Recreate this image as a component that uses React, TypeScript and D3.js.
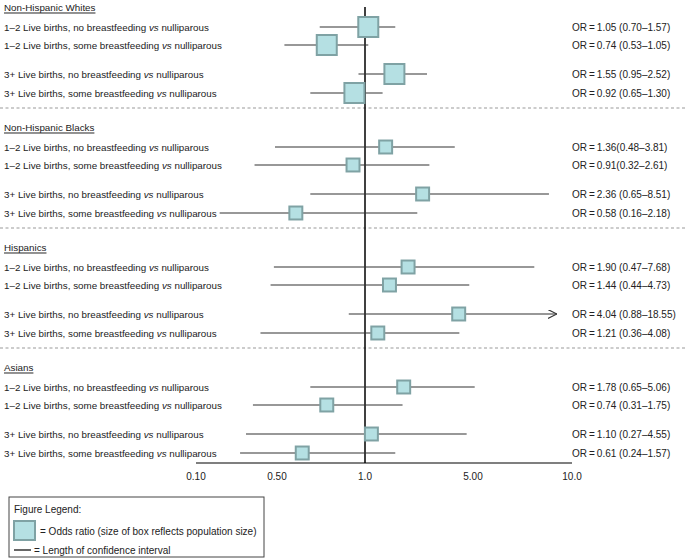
import React from "react";
import * as d3 from "d3";

// ---- Data ----
const groups = ["Non-Hispanic Whites", "Non-Hispanic Blacks", "Hispanics", "Asians"];
const comparisons = [
  "1–2 Live births, no breastfeeding",
  "1–2 Live births, some breastfeeding",
  "3+ Live births, no breastfeeding",
  "3+ Live births, some breastfeeding",
];
const orValues = [1.05, 0.74, 1.55, 0.92, 1.36, 0.91, 2.36, 0.58, 1.9, 1.44, 4.04, 1.21, 1.78, 0.74, 1.1, 0.61];
const ciLow = [0.7, 0.53, 0.95, 0.65, 0.48, 0.32, 0.65, 0.16, 0.47, 0.44, 0.88, 0.36, 0.65, 0.31, 0.27, 0.24];
const ciHigh = [1.57, 1.05, 2.52, 1.3, 3.81, 2.61, 8.51, 2.18, 7.68, 4.73, 18.55, 4.08, 5.06, 1.75, 4.55, 1.57];
const orLabels = [
  "OR\u2009=\u20091.05 (0.70–1.57)",
  "OR\u2009=\u20090.74 (0.53–1.05)",
  "OR\u2009=\u20091.55 (0.95–2.52)",
  "OR\u2009=\u20090.92 (0.65–1.30)",
  "OR\u2009=\u20091.36(0.48–3.81)",
  "OR\u2009=\u20090.91(0.32–2.61)",
  "OR\u2009=\u20092.36 (0.65–8.51)",
  "OR\u2009=\u20090.58 (0.16–2.18)",
  "OR\u2009=\u20091.90 (0.47–7.68)",
  "OR\u2009=\u20091.44 (0.44–4.73)",
  "OR\u2009=\u20094.04 (0.88–18.55)",
  "OR\u2009=\u20091.21 (0.36–4.08)",
  "OR\u2009=\u20091.78 (0.65–5.06)",
  "OR\u2009=\u20090.74 (0.31–1.75)",
  "OR\u2009=\u20091.10 (0.27–4.55)",
  "OR\u2009=\u20090.61 (0.24–1.57)",
];
const groupWeights = [1, 0.42, 0.42, 0.42];
const tickValues = [0.1, 0.5, 1, 5, 10];
const tickLabels = ["0.10", "0.50", "1.0", "5.00", "10.0"];
const displayCap = 9;

// ---- Layout ----
const W = 685;
const H = 560;
const FONT = "'Liberation Sans', Arial, Helvetica, sans-serif";
const x = d3.scaleLog().domain(tickValues).range([196, 277, 365, 473, 572]);
const groupY = d3.scaleLinear().domain([0, 1]).range([7, 127]);
const rowOffsets = [20, 38, 67, 86];
const sepOffset = 101;
const axisY = 463;
const boxSize = d3.scaleSqrt().domain([0, 1]).range([0, 20]);

const BOX_FILL = "#b5e0e3";
const BOX_STROKE = "#7fa2a4";
const LINE = "#333";

export default function App() {
  const rows = orValues.map((v, i) => {
    const g = Math.floor(i / 4);
    const r = i % 4;
    return {
      g,
      r,
      v,
      lo: ciLow[i],
      hi: ciHigh[i],
      label: orLabels[i],
      y: groupY(g) + rowOffsets[r],
      capped: ciHigh[i] > displayCap,
    };
  });

  return (
    <svg
      width={W}
      height={H}
      style={{ position: "absolute", left: 0, top: 0, background: "#fff" }}
      fontFamily={FONT}
    >
      <defs>
        <marker id="arr" viewBox="0 0 10 10" refX="10" refY="5" markerWidth="9" markerHeight="9" orient="auto" markerUnits="userSpaceOnUse">
          <path d="M0,0 L10,5 L0,10" fill="none" stroke={LINE} strokeWidth={1.2} />
        </marker>
      </defs>

      {/* group headers & separators */}
      {groups.map((name, g) => (
        <g key={name}>
          <text x={4} y={groupY(g)} dominantBaseline="central" fontSize={9.8} fill="#222" textDecoration="underline">
            {name}
          </text>
          {g < groups.length - 1 && (
            <line x1={0} x2={W} y1={groupY(g) + sepOffset} y2={groupY(g) + sepOffset} stroke="#999" strokeDasharray="3,2.5" strokeWidth={1} />
          )}
        </g>
      ))}

      {/* row labels */}
      {rows.map((d, i) => (
        <text key={"l" + i} x={4} y={d.y} dominantBaseline="central" fontSize={9.8} fill="#222">
          {comparisons[d.r] + " "}
          <tspan fontStyle="italic">vs</tspan>
          {" nulliparous"}
        </text>
      ))}

      {/* right OR labels */}
      {rows.map((d, i) => (
        <text key={"o" + i} x={572} y={d.y} dominantBaseline="central" fontSize={10} fill="#222">
          {d.label}
        </text>
      ))}

      {/* reference line at OR = 1 */}
      <line x1={x(1)} x2={x(1)} y1={7} y2={axisY} stroke="#000" strokeWidth={1.5} />

      {/* confidence intervals */}
      {rows.map((d, i) => (
        <line
          key={"c" + i}
          x1={x(d.lo)}
          x2={x(Math.min(d.hi, displayCap))}
          y1={d.y}
          y2={d.y}
          stroke={LINE}
          strokeWidth={1.2}
          markerEnd={d.capped ? "url(#arr)" : undefined}
        />
      ))}

      {/* boxes */}
      {rows.map((d, i) => {
        const s = boxSize(groupWeights[d.g]);
        return (
          <rect
            key={"b" + i}
            x={x(d.v) - s / 2}
            y={d.y - s / 2}
            width={s}
            height={s}
            fill={BOX_FILL}
            stroke={BOX_STROKE}
            strokeWidth={2}
          />
        );
      })}

      {/* axis */}
      <line x1={x(tickValues[0])} x2={x(tickValues[tickValues.length - 1])} y1={axisY} y2={axisY} stroke="#000" strokeWidth={1.2} />
      {tickValues.map((t, i) => (
        <text key={"t" + i} x={x(t)} y={axisY + 13} textAnchor="middle" dominantBaseline="central" fontSize={10} fill="#222">
          {tickLabels[i]}
        </text>
      ))}

      {/* legend */}
      <g>
        <rect x={9} y={497} width={255} height={60} fill="#fff" stroke="#444" strokeWidth={1} />
        <text x={14} y={509} dominantBaseline="central" fontSize={10} fill="#222">
          Figure Legend:
        </text>
        <rect x={14} y={521} width={21} height={19} fill={BOX_FILL} stroke={BOX_STROKE} strokeWidth={2} />
        <text x={40} y={531} dominantBaseline="central" fontSize={10} fill="#222">
          {"=  Odds ratio (size of box reflects population size)"}
        </text>
        <line x1={14} x2={31} y1={550} y2={550} stroke="#000" strokeWidth={1.2} />
        <text x={34} y={550} dominantBaseline="central" fontSize={10} fill="#222">
          {"=  Length of confidence interval"}
        </text>
      </g>
    </svg>
  );
}
